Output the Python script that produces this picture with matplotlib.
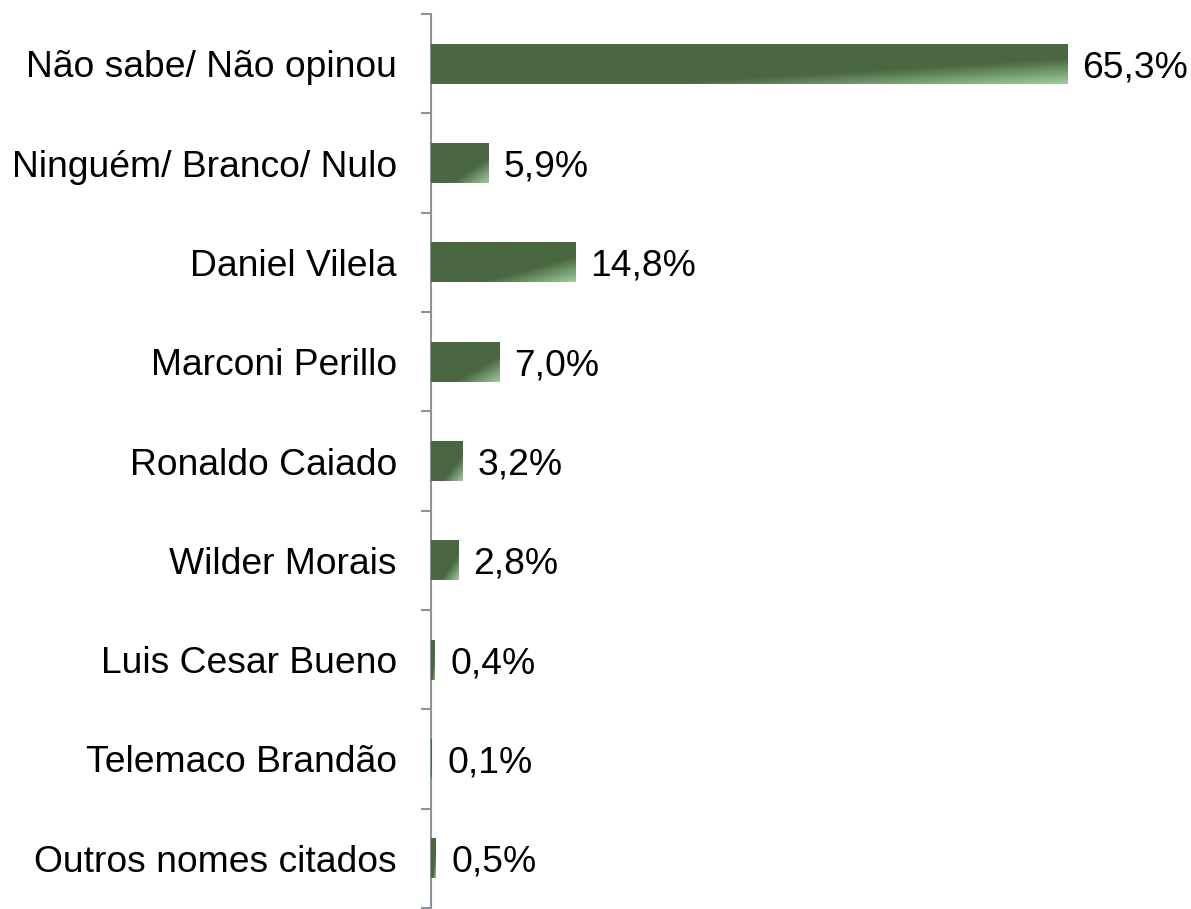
import numpy as np
import matplotlib
matplotlib.use("Agg")
import matplotlib.pyplot as plt
from matplotlib.colors import LinearSegmentedColormap

categories = ["Não sabe/ Não opinou", "Ninguém/ Branco/ Nulo", "Daniel Vilela",
              "Marconi Perillo", "Ronaldo Caiado", "Wilder Morais",
              "Luis Cesar Bueno", "Telemaco Brandão", "Outros nomes citados"]
values = [65.3, 5.9, 14.8, 7.0, 3.2, 2.8, 0.4, 0.1, 0.5]
value_labels = ["65,3%", "5,9%", "14,8%", "7,0%", "3,2%", "2,8%", "0,4%", "0,1%", "0,5%"]

plt.rcParams['font.family'] = ['Liberation Sans', 'DejaVu Sans']

W, H = 1191, 909
fig = plt.figure(figsize=(W / 100, H / 100), dpi=100)
ax = fig.add_axes([431 / W, 1 / H, (W - 431) / W, (908 - 14) / H])

dark = "#4a6741"
light = "#9dcd9a"
cmap = LinearSegmentedColormap.from_list("g", [(0, dark), (0.68, dark), (1.0, light)])

n = len(categories)
ypos = np.arange(n)
bar_h = 0.4
bars = ax.barh(ypos, values, height=bar_h, color=dark, edgecolor="none", zorder=2)

# diagonal gradient inside each bar (normalised coords)
u = np.linspace(0, 1, 200)
v = np.linspace(0, 1, 60)
U, V = np.meshgrid(u, v)
grad = (U + V) / 2.0
for b, val, yc in zip(bars, values, ypos):
    im = ax.imshow(grad, cmap=cmap, vmin=0, vmax=1, origin="upper",
                   extent=[0, val, yc + bar_h / 2, yc - bar_h / 2],
                   interpolation="bilinear", zorder=3)
    im.set_clip_path(b)

ax.set_aspect("auto")
ax.set_xlim(0, 78)
ax.set_ylim(n - 0.5, -0.5)

for val, lab, yc in zip(values, value_labels, ypos):
    ax.annotate(lab, xy=(val, yc), xytext=(11, 0), textcoords="offset points",
                va="center_baseline", ha="left", fontsize=26.8, color="black")

ax.set_yticks(ypos)
ax.set_yticklabels(categories, fontsize=26.8)
ax.set_yticks(np.arange(-0.5, n, 1.0), minor=True)
ax.tick_params(axis="y", which="major", length=0, pad=24.5)
ax.tick_params(axis="y", which="minor", length=7.5, width=1.5, color="#8a929c", direction="out")
ax.set_xticks([])

for s in ["top", "right", "bottom"]:
    ax.spines[s].set_visible(False)
ax.spines["left"].set_color("#8a929c")
ax.spines["left"].set_linewidth(1.5)

fig.savefig("out.png", dpi=100)
